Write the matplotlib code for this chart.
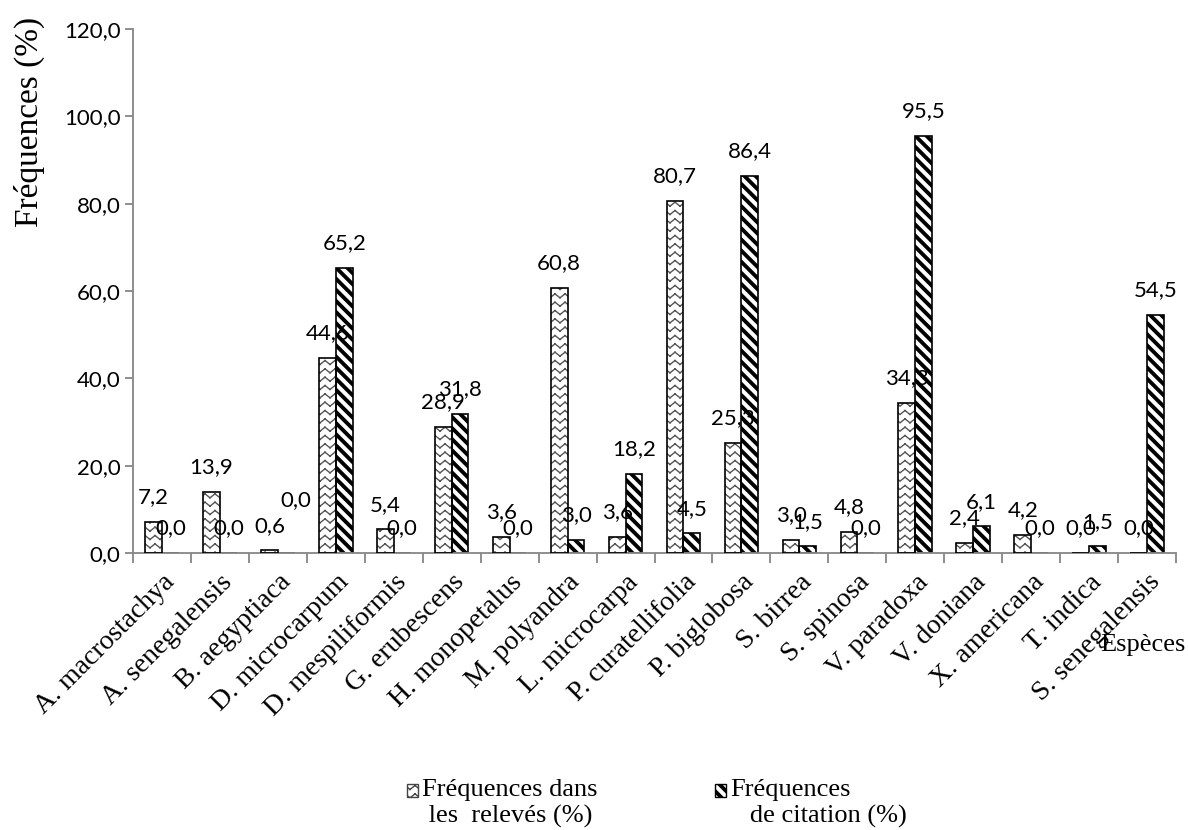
import warnings
import numpy as np
import matplotlib
matplotlib.use('Agg')
import matplotlib.pyplot as plt
import matplotlib.hatch as mhatch
from matplotlib.path import Path
from matplotlib.patches import Patch, Rectangle
from matplotlib.legend_handler import HandlerPatch

# species and the two frequency series (%)
species = ['A. macrostachya', 'A. senegalensis', 'B. aegyptiaca', 'D. microcarpum',
           'D. mespiliformis', 'G. erubescens', 'H. monopetalus', 'M. polyandra',
           'L. microcarpa', 'P. curatellifolia', 'P. biglobosa', 'S. birrea',
           'S. spinosa', 'V. paradoxa', 'V. doniana', 'X. americana', 'T. indica',
           'S. senegalensis']
freq_releves = [7.2, 13.9, 0.6, 44.6, 5.4, 28.9, 3.6, 60.8, 3.6, 80.7, 25.3, 3.0,
                4.8, 34.3, 2.4, 4.2, 0.0, 0.0]
freq_citation = [0.0, 0.0, 0.0, 65.2, 0.0, 31.8, 0.0, 3.0, 18.2, 4.5, 86.4, 1.5,
                 0.0, 95.5, 6.1, 0.0, 1.5, 54.5]
yticks = [0, 20, 40, 60, 80, 100, 120]
legend_labels = ['Fréquences dans\n les  relevés (%)', 'Fréquences\n   de citation (%)']


# extra fill patterns: 'z' = wavy zigzag, 's' = thick backslash stripes
class ZigzagHatch(mhatch.HatchPatternBase):
    def __init__(self, hatch, density):
        self.num_lines = 12 if 'z' in hatch else 0
        self.num_teeth = 10
        self.num_vertices = self.num_lines * self.num_teeth * 4

    def set_vertices_and_codes(self, vertices, codes):
        ys = (np.arange(self.num_lines) + 0.5) / self.num_lines
        xs = np.linspace(0, 1, 2 * self.num_teeth + 1)
        amp = 0.02
        dz = np.where(np.arange(xs.size) % 2 == 1, amp, -amp)
        pts = []
        for y in ys:
            for i in range(xs.size - 1):
                pts.append((xs[i], y + dz[i]))
                pts.append((xs[i + 1], y + dz[i + 1]))
        vertices[:] = pts
        codes[0::2] = Path.MOVETO
        codes[1::2] = Path.LINETO


class StripeHatch(mhatch.HatchPatternBase):
    def __init__(self, hatch, density):
        self.n = 9 if 's' in hatch else 0
        self.num_vertices = (2 * self.n + 1) * 5 if self.n else 0

    def set_vertices_and_codes(self, vertices, codes):
        w = 0.035
        pts = []
        for k in range(-self.n, self.n + 1):
            t = k / self.n
            pts += [(t, 1), (t + w, 1), (t + w + 1, 0), (t + 1, 0), (t, 1)]
        vertices[:] = pts
        codes[0::5] = Path.MOVETO
        codes[1::5] = Path.LINETO
        codes[2::5] = Path.LINETO
        codes[3::5] = Path.LINETO
        codes[4::5] = Path.CLOSEPOLY


mhatch._hatch_types.append(ZigzagHatch)
mhatch._hatch_types.append(StripeHatch)
warnings.filterwarnings('ignore', message='hatch must consist')

plt.rcParams['hatch.linewidth'] = 1.0
serif = 'Liberation Serif'
numfont = 'Lato'

fig = plt.figure(figsize=(11.88, 8.30), dpi=100)
ax = fig.add_axes([133 / 1188, 1 - 553 / 830, (1176 - 133) / 1188, (553 - 29) / 830])

x = np.arange(len(species))
w = 0.29
gray = '#868686'

# series 1: grey zigzag fill, black outline drawn on top
ax.bar(x - w / 2, freq_releves, w, color='white', edgecolor='#555555', hatch='z', linewidth=0, zorder=2)
ax.bar(x - w / 2, freq_releves, w, fill=False, edgecolor='black', linewidth=1.2, zorder=3)
# series 2: black stripes
ax.bar(x + w / 2, freq_citation, w, color='white', edgecolor='black', hatch='s', linewidth=1.2, zorder=2)

fmt = lambda v: ('%.1f' % v).replace('.', ',')
# a label pushed aside where it would sit on its neighbour (series, index): (dx, dy) pt
nudge = {(1, 2): (7, 20)}
for si, (xs, vals) in enumerate(((x - w / 2, freq_releves), (x + w / 2, freq_citation))):
    for i, (xi, v) in enumerate(zip(xs, vals)):
        dx, dy = nudge.get((si, i), (0, 0))
        ax.annotate(fmt(v), (xi, v), xytext=(dx, 13.5 + dy), textcoords='offset points',
                    ha='center', va='baseline', fontsize=16, family=numfont, zorder=4)

ax.set_xlim(-0.5, len(species) - 0.5)
ax.set_ylim(0, 120)
ax.set_yticks(yticks, [fmt(v) for v in yticks], family=numfont, fontsize=16)
ax.set_xticks(x, species, rotation=45, ha='right', rotation_mode='anchor',
              family=serif, fontsize=20)
ax.set_xticks(np.arange(len(species) + 1) - 0.5, minor=True)
ax.tick_params(axis='x', which='major', length=0, pad=12)
ax.tick_params(axis='x', which='minor', length=7, width=1.3, color=gray)
ax.tick_params(axis='y', length=6, width=1.3, color=gray, pad=3)
for s in ('top', 'right'):
    ax.spines[s].set_visible(False)
for s in ('left', 'bottom'):
    ax.spines[s].set_color(gray)
    ax.spines[s].set_linewidth(1.3)

fig.text(29 / 1188, 1 - 122 / 830, 'Fréquences (%)', rotation=90, ha='center', va='center',
         family=serif, fontsize=24)
fig.text(1186 / 1188, 1 - 645 / 830, 'Espèces', ha='right', va='center', family=serif, fontsize=19)


# legend squares sit level with the first line of each two-line label
def top_square(legend, orig_handle, xdescent, ydescent, width, height, fontsize):
    return Rectangle((-xdescent, -ydescent + 0.45 * fontsize), width, height)


handles = [Patch(facecolor='white', edgecolor='#444444', hatch='z', linewidth=1),
           Patch(facecolor='white', edgecolor='black', hatch='s', linewidth=1)]
leg = fig.legend(handles, legend_labels, loc='lower center', bbox_to_anchor=(0.553, 0.003), ncol=2,
                 frameon=False, prop={'family': serif, 'size': 19}, handlelength=0.42,
                 handleheight=0.42, handletextpad=0.15, columnspacing=4.45,
                 borderpad=0, borderaxespad=0,
                 handler_map={Patch: HandlerPatch(patch_func=top_square)})

fig.savefig('out.png', dpi=100)
